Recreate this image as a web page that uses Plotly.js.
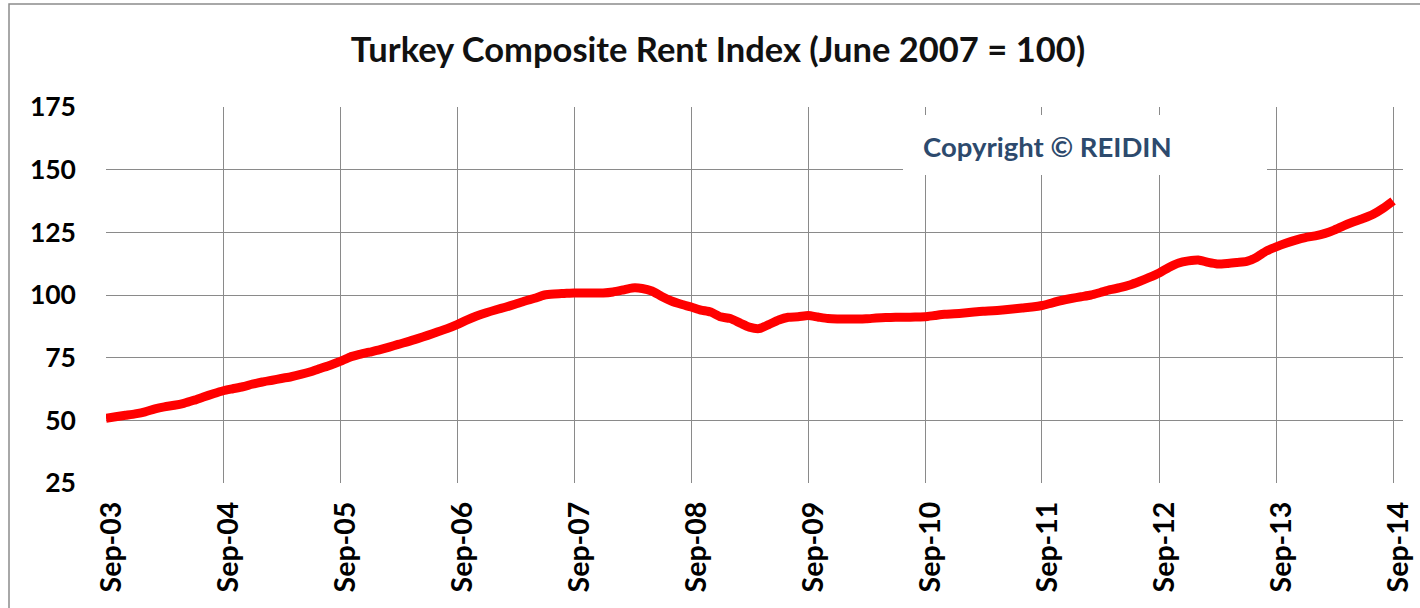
<!DOCTYPE html>
<html>
<head>
<meta charset="utf-8">
<script src="https://cdn.plot.ly/plotly-3.0.1.min.js"></script>
<style>
  html, body { margin: 0; padding: 0; background: #ffffff; }
  #chart { width: 1420px; height: 608px; }
</style>
</head>
<body>
<div id="chart"></div>
<script>
// Monthly index values, Sep-2003 .. Sep-2014 (June 2007 = 100)
const startYear = 2003;
const startMonth = 9; // September
const rentIndex = [
  50.8, 51.4, 52.0, 52.6, 53.4, 54.6, 55.4, 56.0, 56.8, 58.0, 59.3, 60.6,   // Sep03 - Aug04
  61.8, 62.6, 63.4, 64.4, 65.3, 66.0, 66.7, 67.4, 68.3, 69.4, 70.7, 72.0,   // Sep04 - Aug05
  73.5, 75.2, 76.3, 77.2, 78.1, 79.2, 80.3, 81.4, 82.6, 83.9, 85.2, 86.6,   // Sep05 - Aug06
  88.2, 90.0, 91.6, 92.9, 94.1, 95.2, 96.3, 97.6, 98.7, 100.0, 100.4, 100.6, // Sep06 - Aug07
  100.8, 100.8, 100.8, 100.8, 101.2, 102.0, 102.8, 102.6, 101.6, 99.4, 97.6, 96.3, // Sep07 - Aug08
  95.2, 94.0, 93.2, 91.3, 90.6, 88.8, 87.2, 86.6, 88.2, 90.0, 91.1, 91.3,   // Sep08 - Aug09
  91.8, 91.2, 90.6, 90.4, 90.4, 90.4, 90.5, 90.8, 91.0, 91.1, 91.1, 91.2,   // Sep09 - Aug10
  91.3, 91.8, 92.3, 92.5, 92.8, 93.2, 93.5, 93.7, 94.0, 94.4, 94.8, 95.2,   // Sep10 - Aug11
  95.8, 96.8, 97.8, 98.6, 99.3, 100.0, 101.0, 102.1, 102.9, 104.0, 105.4, 107.0, // Sep11 - Aug12
  108.8, 111.0, 112.8, 113.6, 114.0, 113.0, 112.4, 112.6, 113.0, 113.4, 115.0, 117.5, // Sep12 - Aug13
  119.2, 120.6, 121.9, 122.9, 123.6, 124.6, 125.9, 127.7, 129.2, 130.6, 132.2, 134.6, // Sep13 - Aug14
  137.5 // Sep14
];
const tickDates = ['2003-09-01','2004-09-01','2005-09-01','2006-09-01','2007-09-01','2008-09-01',
                   '2009-09-01','2010-09-01','2011-09-01','2012-09-01','2013-09-01','2014-09-01'];
const tickLabels = ['Sep-03','Sep-04','Sep-05','Sep-06','Sep-07','Sep-08',
                    'Sep-09','Sep-10','Sep-11','Sep-12','Sep-13','Sep-14'];
const yTicks = [25, 50, 75, 100, 125, 150, 175];
const chartTitle = 'Turkey Composite Rent Index (June 2007 = 100)';
const copyrightText = 'Copyright © REIDIN';

// month dates for the series
const months = rentIndex.map((_, i) => {
  const total = (startMonth - 1) + i;
  const y = startYear + Math.floor(total / 12);
  const m = (total % 12) + 1;
  return y + '-' + String(m).padStart(2, '0') + '-01';
});

const FONT = 'Lato, "Open Sans", "DejaVu Sans", sans-serif';
const GRID = '#8a8a8a';

const trace = {
  x: months,
  y: rentIndex,
  type: 'scatter',
  mode: 'lines',
  line: { color: '#ff0000', width: 9, shape: 'spline', smoothing: 0.6 },
  hoverinfo: 'x+y',
  showlegend: false
};

// plot area: x 106..1403, y 107..483
const L = 106, T = 107, R = 1403, B = 483, W = 1420, H = 608;
const px = v => (v - L) / (R - L);
const py = v => (B - v) / (B - T);

const layout = {
  width: W,
  height: H,
  margin: { l: L, r: W - R, t: T, b: H - B, pad: 0 },
  paper_bgcolor: '#ffffff',
  plot_bgcolor: '#ffffff',
  font: { family: FONT, color: '#000000' },
  title: {
    text: '<b>' + chartTitle + '</b>',
    font: { family: FONT, size: 34.5, color: '#111111' },
    xref: 'container', yref: 'container',
    x: 718 / W, y: 1 - 50 / H,
    xanchor: 'center', yanchor: 'middle'
  },
  xaxis: {
    type: 'date',
    range: ['2003-09-01', '2014-10-02'],
    tickmode: 'array',
    tickvals: tickDates,
    ticktext: tickLabels.map(t => '<b>' + t + '</b>'),
    tickangle: -90,
    ticks: '',
    ticklabelstandoff: 12,
    ticklabelshift: 6,
    tickfont: { family: FONT, size: 28.5, color: '#000000' },
    showgrid: true,
    gridcolor: GRID,
    gridwidth: 1,
    zeroline: false,
    showline: false,
    fixedrange: true
  },
  yaxis: {
    range: [25, 175],
    tickmode: 'array',
    tickvals: yTicks,
    ticktext: yTicks.map(v => '<b>' + v + '</b>'),
    ticks: '',
    ticklabelstandoff: 29,
    tickfont: { family: FONT, size: 26.5, color: '#000000' },
    showgrid: true,
    gridcolor: GRID,
    gridwidth: 1,
    zeroline: false,
    showline: false,
    fixedrange: true
  },
  shapes: [
    // white box behind the copyright notice
    { type: 'rect', xref: 'paper', yref: 'paper',
      x0: px(903), x1: px(1267), y0: py(175), y1: py(115),
      fillcolor: '#ffffff', line: { width: 0 }, layer: 'above' },
    // outer chart border (left and top visible)
    { type: 'path', xref: 'paper', yref: 'paper',
      path: 'M ' + px(9) + ',' + py(H + 5) + ' L ' + px(9) + ',' + py(4) + ' L ' + px(W + 5) + ',' + py(4),
      line: { color: '#8c8c8c', width: 1.5 }, layer: 'above' }
  ],
  annotations: [
    { xref: 'paper', yref: 'paper',
      x: px(921), y: py(146),
      xanchor: 'left', yanchor: 'middle',
      text: '<b>' + copyrightText + '</b>',
      showarrow: false,
      font: { family: FONT, size: 27.5, color: '#2d4a6d' } }
  ]
};

Plotly.newPlot('chart', [trace], layout, { displayModeBar: false, staticPlot: true });
</script>
</body>
</html>
